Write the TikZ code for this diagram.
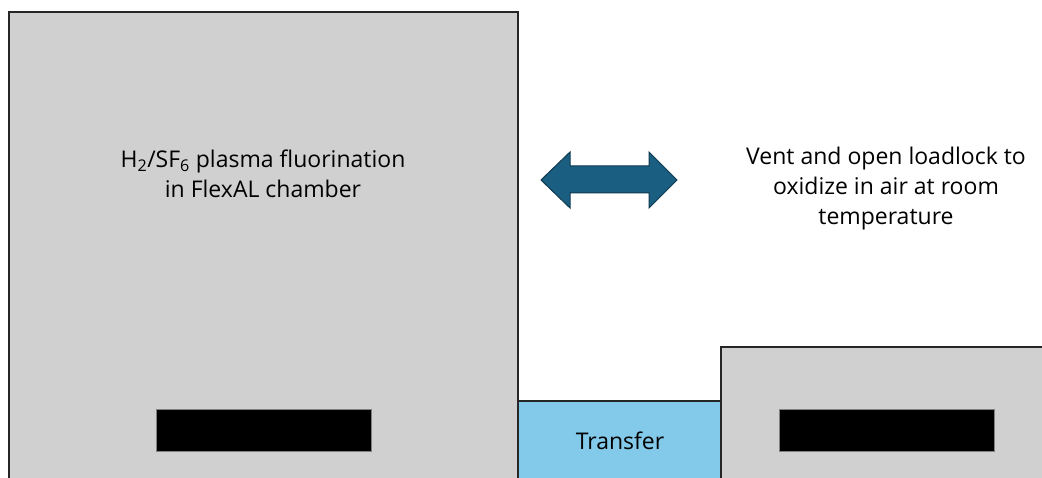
\documentclass[tikz,border=0pt]{standalone}
\usepackage{fontspec}
\setmainfont{Open Sans}
\definecolor{boxgray}{HTML}{D0D0D0}
\definecolor{xferblue}{HTML}{83CAEA}
\definecolor{arrowblue}{HTML}{1A5E82}
\definecolor{arrowedge}{HTML}{0E3A50}
\begin{document}
\begin{tikzpicture}[x=1pt,y=-1pt,
  chamber/.style={draw=black!85,line width=1.6pt,fill=boxgray},
  holder/.style={draw=black!50,line width=0.8pt,fill=black},
  dblarrow/.style={draw=arrowedge,line width=1pt,fill=arrowblue,line join=miter},
  lbl/.style={font=\fontsize{23}{30}\selectfont,align=center,text=black}]
\useasboundingbox (0,0) rectangle (1042,478);
\begin{scope}
\clip (0,0) rectangle (1042,478);
\draw[chamber] (9,12) rectangle (518,490);
\draw[chamber,fill=xferblue] (518,401) rectangle (721,490);
\draw[chamber] (721,347) rectangle (1050,490);
\draw[holder] (156.5,409.5) rectangle (371,451);
\draw[holder] (779.5,409.5) rectangle (994,451);
\end{scope}
\node[lbl] (flu) at (263,174) {H\textsubscript{2}/SF\textsubscript{6} plasma fluorination\\in FlexAL chamber};
\node[lbl] (vent) at (886,189) {Vent and open loadlock to\\oxidize in air at room\\temperature};
\node[lbl] (xfer) at (620,441) {Transfer};
\draw[dblarrow] (541,180) -- (570,152) -- (570,166) -- (649,166) -- (649,152)
  -- (677,180) -- (649,208) -- (649,193) -- (570,193) -- (570,208) -- cycle;
\end{tikzpicture}
\end{document}
